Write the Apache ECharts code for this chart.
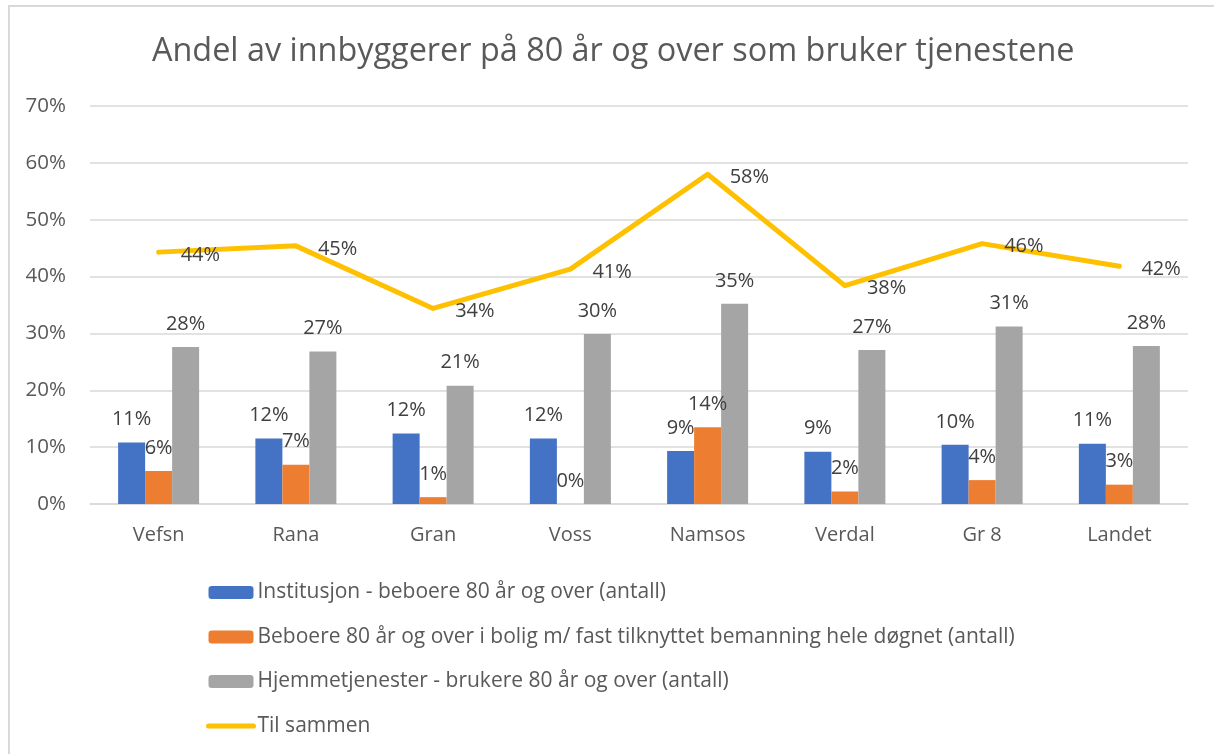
<!DOCTYPE html>
<html>
<head>
<meta charset="utf-8">
<script src="https://cdn.jsdelivr.net/npm/echarts@6/dist/echarts.min.js"></script>
<style>
  html, body { margin: 0; padding: 0; background: #fff; overflow: hidden; }
  #frame { position: absolute; left: 8px; top: 5px; width: 1220px; height: 770px; border: 2px solid #d9d9d9; box-sizing: border-box; }
  #chart { position: absolute; left: 0; top: 0; width: 1214px; height: 754px; }
</style>
</head>
<body>
<div id="frame"></div>
<div id="chart"></div>
<script>
const categories = ['Vefsn', 'Rana', 'Gran', 'Voss', 'Namsos', 'Verdal', 'Gr 8', 'Landet'];
const institusjon = [10.8, 11.5, 12.4, 11.5, 9.3, 9.2, 10.4, 10.6];
const bolig = [5.8, 6.9, 1.2, 0.0, 13.5, 2.2, 4.2, 3.4];
const hjemme = [27.6, 26.8, 20.8, 29.9, 35.2, 27.1, 31.2, 27.8];
const tilSammen = [44.3, 45.4, 34.4, 41.3, 58.0, 38.4, 45.8, 41.8];
const yTicks = [0, 10, 20, 30, 40, 50, 60, 70];
const seriesNames = [
  'Institusjon - beboere 80 år og over (antall)',
  'Beboere 80 år og over i bolig m/ fast tilknyttet bemanning hele døgnet (antall)',
  'Hjemmetjenester - brukere 80 år og over (antall)',
  'Til sammen'
];

const FONT = 'Open Sans';
const pct = p => Math.round(p.value) + '%';
const barLabel = {
  show: true, position: 'top', distance: 13, formatter: pct,
  color: '#404040', fontSize: 20, fontFamily: FONT
};
const chart = echarts.init(document.getElementById('chart'));
chart.setOption({
  animation: false,
  backgroundColor: 'transparent',
  title: {
    text: 'Andel av innbyggerer på 80 år og over som bruker tjenestene',
    left: 147, top: 31,
    textStyle: { color: '#595959', fontSize: 32.4, fontWeight: 'normal', fontFamily: FONT }
  },
  grid: { left: 90, right: 26, top: 106, bottom: 250, containLabel: false },
  legend: {
    orient: 'vertical', left: 201, top: 577,
    itemWidth: 45, itemHeight: 13, itemGap: 23.5,
    textStyle: { color: '#595959', fontSize: 21, fontFamily: FONT, padding: [0, 0, 0, -1] },
    data: [
      seriesNames[0], seriesNames[1], seriesNames[2],
      { name: seriesNames[3], itemStyle: { opacity: 0 }, lineStyle: { width: 5, cap: 'round', color: '#FFC000' } }
    ]
  },
  xAxis: {
    type: 'category', data: categories,
    axisLine: { lineStyle: { color: '#d9d9d9', width: 1.5 } },
    axisTick: { show: false },
    axisLabel: { color: '#595959', fontSize: 20, fontFamily: FONT, margin: 21 }
  },
  yAxis: {
    type: 'value', min: yTicks[0], max: yTicks[yTicks.length - 1], interval: 10,
    axisLine: { show: false }, axisTick: { show: false },
    axisLabel: { color: '#595959', fontSize: 20.5, fontFamily: FONT, margin: 24, formatter: '{value}%' },
    splitLine: { lineStyle: { color: '#d9d9d9', width: 1.5 } }
  },
  series: [
    { name: seriesNames[0], type: 'bar', data: institusjon, barWidth: 27, barGap: '0%',
      itemStyle: { color: '#4472C4' }, label: barLabel },
    { name: seriesNames[1], type: 'bar', data: bolig, barWidth: 27, barGap: '0%',
      itemStyle: { color: '#ED7D31' }, label: barLabel },
    { name: seriesNames[2], type: 'bar', data: hjemme, barWidth: 27, barGap: '0%',
      itemStyle: { color: '#A5A5A5' }, label: barLabel },
    { name: seriesNames[3], type: 'line', data: tilSammen, symbol: 'circle', symbolSize: 0, showSymbol: true,
      lineStyle: { color: '#FFC000', width: 5, cap: 'round', join: 'round' },
      itemStyle: { color: '#FFC000' },
      label: { show: true, position: 'right', distance: 22, offset: [0, 3], formatter: pct,
               color: '#404040', fontSize: 20, fontFamily: FONT } }
  ]
});
</script>
</body>
</html>
